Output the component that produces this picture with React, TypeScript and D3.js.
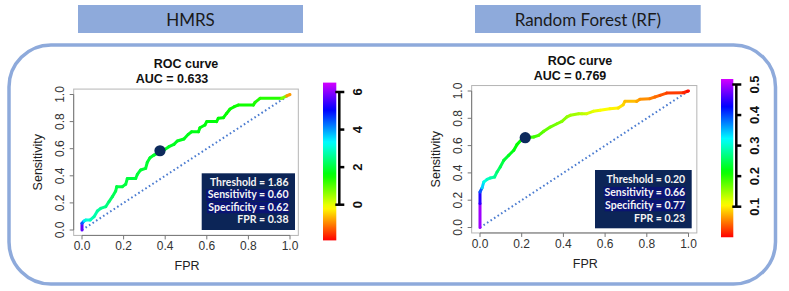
import React from "react";
import * as d3 from "d3";

// ---------- DATA ----------
const xTicks = [0, 0.2, 0.4, 0.6, 0.8, 1.0];
const yTicks = [0, 0.2, 0.4, 0.6, 0.8, 1.0];

const hmrsFPR = [0, 0, 0.01, 0.018, 0.04, 0.058, 0.074, 0.09, 0.114, 0.13, 0.146, 0.162, 0.167, 0.194, 0.21, 0.218, 0.258, 0.266, 0.282, 0.306, 0.314, 0.327, 0.346, 0.394, 0.418, 0.442, 0.458, 0.49, 0.511, 0.527, 0.56, 0.567, 0.591, 0.6, 0.647, 0.655, 0.68, 0.695, 0.712, 0.732, 0.751, 0.824, 0.832, 0.856, 0.96, 0.984, 1];
const hmrsTPR = [0, 0.05, 0.066, 0.074, 0.074, 0.098, 0.14, 0.16, 0.172, 0.21, 0.246, 0.288, 0.32, 0.32, 0.337, 0.38, 0.38, 0.41, 0.443, 0.455, 0.5, 0.533, 0.553, 0.59, 0.615, 0.632, 0.657, 0.672, 0.706, 0.725, 0.725, 0.755, 0.775, 0.8, 0.8, 0.824, 0.829, 0.86, 0.893, 0.91, 0.922, 0.922, 0.942, 0.972, 0.972, 0.99, 1];
const hmrsThreshold = [6.4, 5.0, 3.8, 3.2, 2.9, 2.8, 2.7, 2.6, 2.5, 2.35, 2.2, 2.1, 2.05, 2.0, 2.0, 2.0, 1.98, 1.96, 1.94, 1.92, 1.9, 1.88, 1.86, 1.84, 1.82, 1.8, 1.78, 1.76, 1.74, 1.72, 1.7, 1.68, 1.66, 1.64, 1.62, 1.6, 1.58, 1.56, 1.54, 1.52, 1.5, 1.45, 1.4, 1.35, 1.3, 0.2, -1.9];
const hmrsColorTicks = [0, 2, 4, 6];
const hmrsColorDomain = [-1.9, 6.5];
const hmrsBest = { fpr: 0.375, tpr: 0.585 };
const hmrsStats = ["Threshold = 1.86", "Sensitivity = 0.60", "Specificity = 0.62", "FPR = 0.38"];

const rfFPR = [0, 0, 0, 0.01, 0.018, 0.034, 0.05, 0.07, 0.082, 0.097, 0.114, 0.138, 0.162, 0.177, 0.201, 0.217, 0.257, 0.281, 0.306, 0.337, 0.369, 0.393, 0.417, 0.433, 0.473, 0.489, 0.512, 0.543, 0.576, 0.623, 0.663, 0.687, 0.695, 0.751, 0.767, 0.815, 0.839, 0.863, 0.895, 0.975, 0.995, 1];
const rfTPR = [0, 0.175, 0.26, 0.29, 0.333, 0.353, 0.363, 0.37, 0.407, 0.443, 0.492, 0.529, 0.566, 0.607, 0.646, 0.658, 0.663, 0.675, 0.705, 0.736, 0.76, 0.778, 0.81, 0.822, 0.834, 0.834, 0.834, 0.851, 0.859, 0.87, 0.875, 0.9, 0.924, 0.924, 0.939, 0.944, 0.956, 0.968, 0.985, 0.987, 0.998, 1];
const rfThreshold = [0.52, 0.47, 0.42, 0.36, 0.32, 0.3, 0.29, 0.28, 0.265, 0.25, 0.24, 0.23, 0.22, 0.215, 0.21, 0.2, 0.19, 0.185, 0.175, 0.17, 0.165, 0.16, 0.155, 0.15, 0.145, 0.14, 0.13, 0.12, 0.112, 0.105, 0.1, 0.092, 0.085, 0.075, 0.065, 0.055, 0.05, 0.04, 0.03, 0.02, 0.01, 0];
const rfColorTicks = [0.1, 0.2, 0.3, 0.4, 0.5];
const rfColorDomain = [0, 0.518];
const rfBest = { fpr: 0.217, tpr: 0.658 };
const rfStats = ["Threshold = 0.20", "Sensitivity = 0.66", "Specificity = 0.77", "FPR = 0.23"];

const titles = ["HMRS", "Random Forest (RF)"];
const aucLabels = ["AUC = 0.633", "AUC = 0.769"];

// ---------- STYLE ----------
const BLUE_FRAME = "#8EAADB";
const NAVY = "#0c2557";
const HILITE = "#0a1474";
const RFONT = "'Liberation Sans', Arial, sans-serif";
const CFONT = "Lato, 'Open Sans', sans-serif";

type PanelProps = {
  id: string;
  fpr: number[];
  tpr: number[];
  thr: number[];
  best: { fpr: number; tpr: number };
  stats: string[];
  colorTicks: number[];
  colorDomain: number[];
  auc: string;
  L: any;
};

function Panel({ id, fpr, tpr, thr, best, stats, colorTicks, colorDomain, auc, L }: PanelProps) {
  const x = d3.scaleLinear().domain([0, 1]).range(L.xr);
  const y = d3.scaleLinear().domain([0, 1]).range(L.yr);
  const padX = (L.xr[1] - L.xr[0]) * 0.04;
  const padY = (L.yr[0] - L.yr[1]) * 0.04;
  const box = { l: L.xr[0] - padX, r: L.xr[1] + padX, t: L.yr[1] - padY, b: L.yr[0] + padY };

  const hue = d3.scaleLinear().domain(colorDomain).range([0, 290]).clamp(true);
  const col = (v: number) => d3.hsl(hue(v), 1, 0.5).formatHex();
  const cy = d3.scaleLinear().domain(L.cbTickDom).range(L.cbTickRange);

  const segs = fpr.slice(0, -1).map((f, i) => ({
    x1: x(f), y1: y(tpr[i]), x2: x(fpr[i + 1]), y2: y(tpr[i + 1]), c: col((thr[i] + thr[i + 1]) / 2),
  }));

  const stops = d3.range(0, 41).map((k) => {
    const t = k / 40;
    const v = colorDomain[1] - t * (colorDomain[1] - colorDomain[0]);
    return { off: t, c: col(v) };
  });
  const cbTop = cy(colorDomain[1]);
  const cbBot = cy(colorDomain[0]);
  const axTop = cy(colorTicks[colorTicks.length - 1]);
  const axBot = cy(colorTicks[0]);

  return (
    <g>
      <defs>
        <linearGradient id={"grad" + id} x1="0" y1="0" x2="0" y2="1">
          {stops.map((s, i) => (
            <stop key={i} offset={s.off} stopColor={s.c} />
          ))}
        </linearGradient>
      </defs>
      {/* titles */}
      <text x={L.titleX} y={L.titleY} textAnchor="middle" fontFamily={RFONT} fontWeight="bold" fontSize={12.5} fill="#111">ROC curve</text>
      <text x={L.aucX} y={L.titleY + 14.5} textAnchor="middle" fontFamily={RFONT} fontWeight="bold" fontSize={12.5} fill="#111">{auc}</text>
      {/* box */}
      <rect x={box.l} y={box.t} width={box.r - box.l} height={box.b - box.t} fill="none" stroke="#b5b5b5" strokeWidth={1} />
      {/* x axis */}
      <line x1={x(0)} x2={x(1)} y1={box.b} y2={box.b} stroke="#777" />
      {xTicks.map((t) => (
        <g key={"x" + t}>
          <line x1={x(t)} x2={x(t)} y1={box.b} y2={box.b + 4} stroke="#777" />
          <text x={x(t)} y={box.b + 15} textAnchor="middle" fontFamily={RFONT} fontSize={12} fill="#333">{t.toFixed(1)}</text>
        </g>
      ))}
      {/* y axis */}
      <line x1={box.l} x2={box.l} y1={y(0)} y2={y(1)} stroke="#777" />
      {yTicks.map((t) => (
        <g key={"y" + t}>
          <line x1={box.l} x2={box.l - 4} y1={y(t)} y2={y(t)} stroke="#777" />
          <text transform={`translate(${box.l - 10},${y(t)}) rotate(-90)`} textAnchor="middle" fontFamily={RFONT} fontSize={12} fill="#333">{t.toFixed(1)}</text>
        </g>
      ))}
      <text x={(L.xr[0] + L.xr[1]) / 2 + 1} y={box.b + 35} textAnchor="middle" fontFamily={RFONT} fontSize={12.5} fill="#222">FPR</text>
      <text transform={`translate(${box.l - 32},${(L.yr[0] + L.yr[1]) / 2}) rotate(-90)`} textAnchor="middle" fontFamily={RFONT} fontSize={12.5} fill="#222">Sensitivity</text>
      {/* diagonal */}
      <line x1={x(0)} y1={y(0)} x2={x(1)} y2={y(1)} stroke="#4a7bd0" strokeWidth={2} strokeDasharray="1.6 2.6" />
      {/* curve */}
      {segs.map((s, i) => (
        <line key={i} x1={s.x1} y1={s.y1} x2={s.x2} y2={s.y2} stroke={s.c} strokeWidth={3} strokeLinecap="round" />
      ))}
      <circle cx={x(best.fpr)} cy={y(best.tpr)} r={5.6} fill="#0d2a5c" />
      {/* stats box */}
      <rect x={L.sb.l} y={L.sb.t} width={L.sb.r - L.sb.l} height={L.sb.b - L.sb.t} fill={NAVY} />
      {stats.map((s, i) =>
        i === 1 || i === 2 ? (
          <rect key={"h" + i} x={L.sb.r - 7 - L.hw[i - 1]} y={L.sb.base + i * L.sb.dy - 9} width={L.hw[i - 1] + 1} height={11.5} fill={HILITE} />
        ) : null
      )}
      {stats.map((s, i) => (
        <text key={"s" + i} x={L.sb.r - 6.5} y={L.sb.base + i * L.sb.dy} textAnchor="end" fontFamily={CFONT} fontWeight="bold" fontSize={10.5} fill="#f4f4f4">{s}</text>
      ))}
      {/* colorbar */}
      <rect x={L.cbX} y={cbTop} width={L.cbW} height={cbBot - cbTop} fill={`url(#grad${id})`} />
      <line x1={L.cbX + L.cbW + 3} x2={L.cbX + L.cbW + 3} y1={axTop} y2={axBot} stroke="#000" strokeWidth={2.5} />
      {colorTicks.map((t, i) => (
        <g key={"c" + t}>
          <line x1={i === 0 || i === colorTicks.length - 1 ? L.cbX + L.cbW - 1 : L.cbX + L.cbW + 3} x2={L.cbX + L.cbW + 8} y1={cy(t)} y2={cy(t)} stroke="#000" strokeWidth={2.5} />
          <text transform={`translate(${L.cbX + L.cbW + 21},${cy(t)}) rotate(-90)`} textAnchor="middle" dominantBaseline="central" fontFamily={RFONT} fontWeight="bold" fontSize={13} fill="#111">{String(t)}</text>
        </g>
      ))}
    </g>
  );
}

export default function App() {
  const frame = { l: 9, t: 45, r: 775.5, b: 284, rad: 42 };
  const layouts = [
    {
      xr: [82, 290], yr: [230, 94.5], titleX: 186, aucX: 172, titleY: 68,
      sb: { l: 201.7, r: 295, t: 173.3, b: 230, base: 186, dy: 12.4 }, hw: [82, 81],
      cbX: 323, cbW: 13.3, cbTickDom: [0, 6], cbTickRange: [204.7, 92],
    },
    {
      xr: [480, 688.5], yr: [227.5, 91], titleX: 580, aucX: 570, titleY: 65,
      sb: { l: 595, r: 691.7, t: 170, b: 228.3, base: 183, dy: 12.9 }, hw: [81, 80],
      cbX: 721, cbW: 12.3, cbTickDom: [0.1, 0.5], cbTickRange: [206.7, 84.5],
    },
  ];
  const banners = [
    { l: 78, r: 303 },
    { l: 475, r: 700.7 },
  ];
  return (
    <svg width={789} height={291} style={{ position: "absolute", left: 0, top: 0, background: "#fff" }}>
      <rect width={789} height={291} fill="#fff" />
      {banners.map((b, i) => (
        <g key={i}>
          <rect x={b.l} y={5} width={b.r - b.l} height={28} fill={BLUE_FRAME} />
          <text x={(b.l + b.r) / 2} y={25.5} textAnchor="middle" fontFamily={CFONT} fontSize={17} fill="#1a1a1a">{titles[i]}</text>
        </g>
      ))}
      <rect x={frame.l} y={frame.t} width={frame.r - frame.l} height={frame.b - frame.t} rx={frame.rad} ry={frame.rad} fill="none" stroke={BLUE_FRAME} strokeWidth={3.5} />
      <Panel id="a" fpr={hmrsFPR} tpr={hmrsTPR} thr={hmrsThreshold} best={hmrsBest} stats={hmrsStats} colorTicks={hmrsColorTicks} colorDomain={hmrsColorDomain} auc={aucLabels[0]} L={layouts[0]} />
      <Panel id="b" fpr={rfFPR} tpr={rfTPR} thr={rfThreshold} best={rfBest} stats={rfStats} colorTicks={rfColorTicks} colorDomain={rfColorDomain} auc={aucLabels[1]} L={layouts[1]} />
    </svg>
  );
}
